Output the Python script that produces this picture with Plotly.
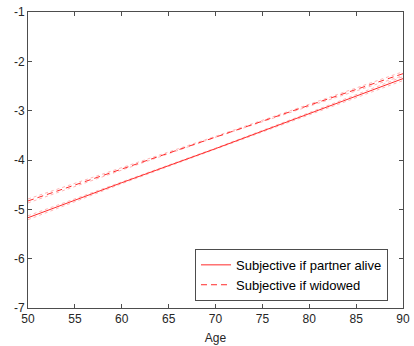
import plotly.graph_objects as go

ages = [50, 60, 70, 80, 90]
alive = [-5.17, -4.46, -3.77, -3.06, -2.35]
alive_lo = [-5.21, -4.48, -3.78, -3.08, -2.39]
alive_hi = [-5.13, -4.44, -3.76, -3.04, -2.31]
widowed = [-4.83, -4.18, -3.53, -2.89, -2.25]
widowed_lo = [-4.87, -4.20, -3.54, -2.91, -2.29]
widowed_hi = [-4.79, -4.16, -3.52, -2.87, -2.21]

x_ticks = [50, 55, 60, 65, 70, 75, 80, 85, 90]
y_ticks = [-7, -6, -5, -4, -3, -2, -1]
y_tick_text = ["-7", "-6", "-5", "-4", "-3", "-2", "-1"]

red = "#ff2a2a"
band = "rgba(255,70,70,0.4)"

fig = go.Figure()
for ys in (alive_lo, alive_hi, widowed_lo, widowed_hi):
    fig.add_trace(go.Scatter(x=ages, y=ys, mode="lines", showlegend=False, hoverinfo="skip",
                             line=dict(color=band, width=1, dash="dot")))
fig.add_trace(go.Scatter(x=ages, y=alive, mode="lines", name="Subjective if partner alive",
                         line=dict(color=red, width=1)))
fig.add_trace(go.Scatter(x=ages, y=widowed, mode="lines", name="Subjective if widowed",
                         line=dict(color=red, width=1, dash="6px,4px")))

font_fam = "Liberation Sans, Arial"
axis_common = dict(showline=True, linecolor="#4d4d4d", linewidth=1, mirror="ticks",
                   ticks="inside", ticklen=4, tickcolor="#4d4d4d", showgrid=False,
                   zeroline=False, automargin=False,
                   tickfont=dict(family=font_fam, size=12, color="#262626"))

fig.update_xaxes(range=[50, 90], tickvals=x_ticks,
                 title=dict(text="Age", font=dict(family=font_fam, size=12, color="#262626"),
                            standoff=8),
                 **axis_common)
fig.update_yaxes(range=[-7, -1], tickvals=y_ticks, ticktext=y_tick_text, **axis_common)

fig.update_layout(
    width=414, height=346,
    margin=dict(l=28, r=11, t=12, b=38),
    paper_bgcolor="white", plot_bgcolor="white",
    font=dict(family=font_fam, size=12, color="#262626"),
    hovermode=False,
    legend=dict(x=0.96, y=0.024, xanchor="right", yanchor="bottom",
                bordercolor="#4d4d4d", borderwidth=1, bgcolor="white",
                font=dict(family=font_fam, size=13, color="#000000"), tracegroupgap=0,
                itemwidth=30),
)

fig.write_html("out.html", config={"displayModeBar": False},
               post_script="document.body.style.margin='0';document.body.style.overflow='hidden';")
